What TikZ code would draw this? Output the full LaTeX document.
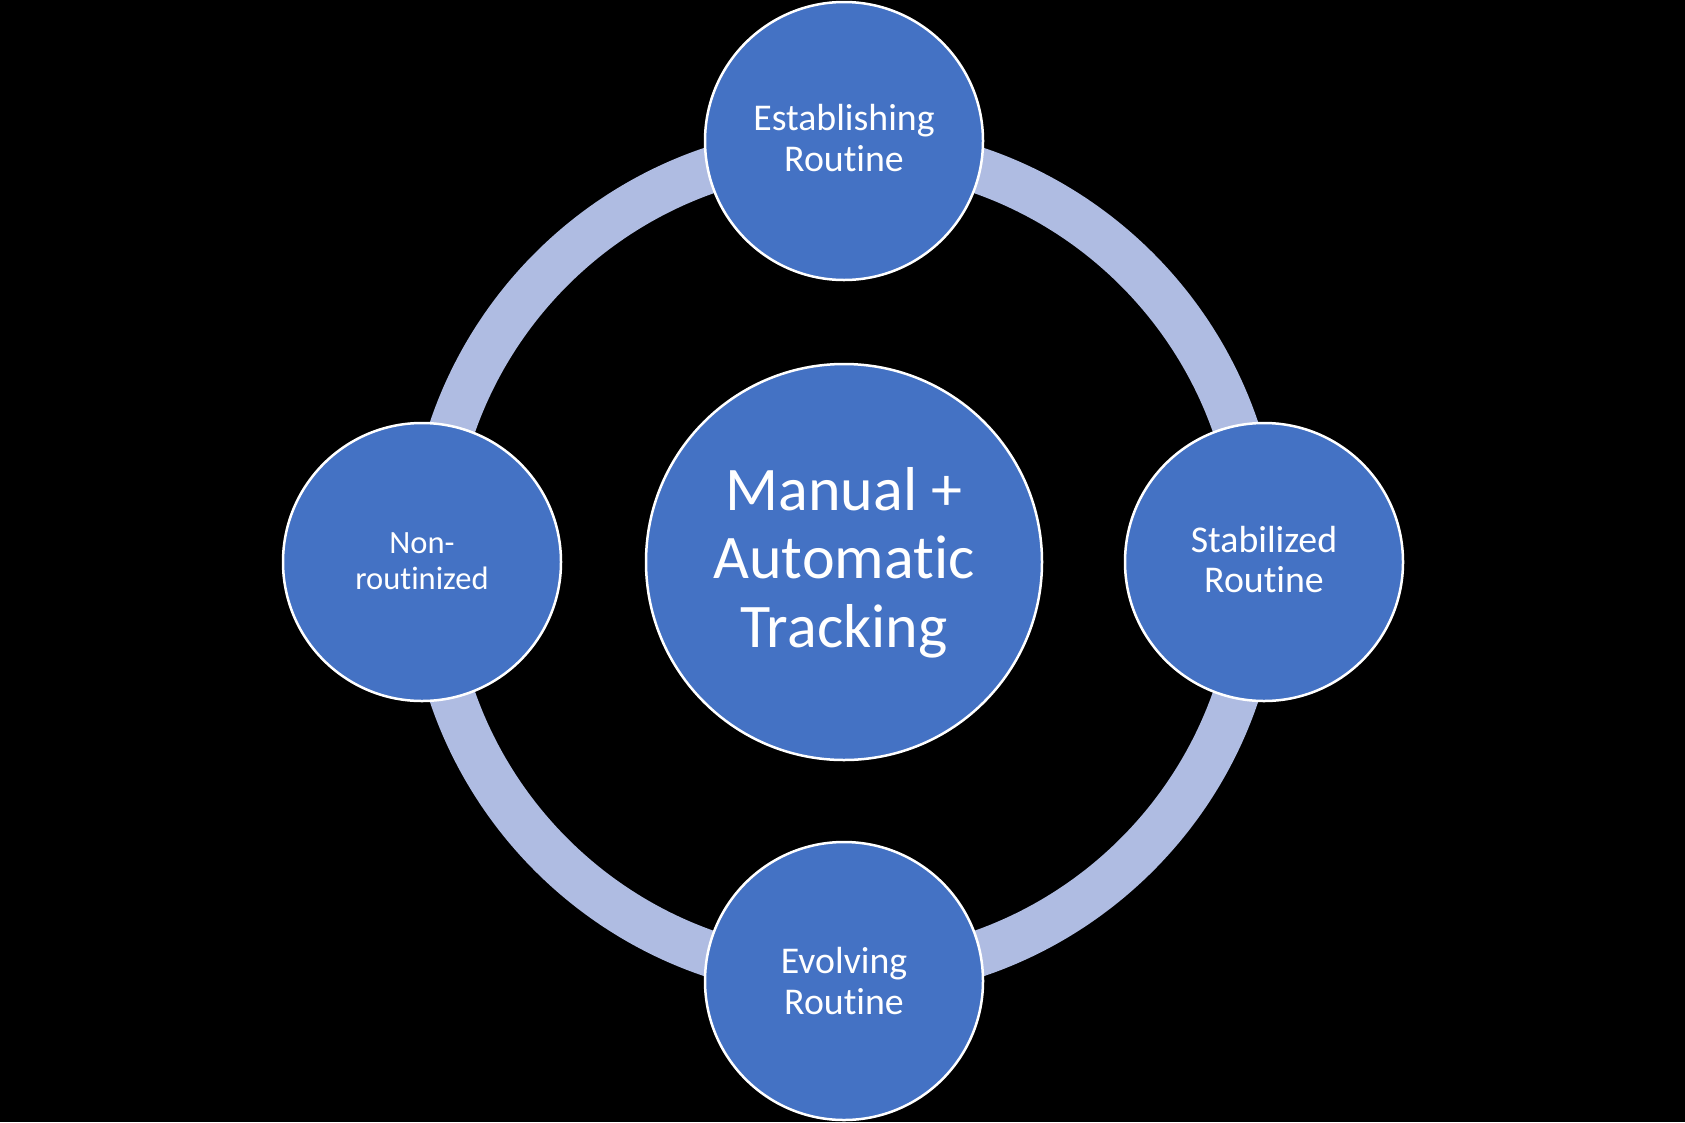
\documentclass[tikz,border=0pt]{standalone}
\usepackage{fontspec}
\setmainfont{Carlito}[Ligatures={NoCommon}]
\definecolor{ringc}{RGB}{175,188,226}
\definecolor{fillc}{RGB}{68,114,196}
\begin{document}
\begin{tikzpicture}[x=1pt,y=-1pt,
  bubble/.style={circle, fill=fillc, draw=white, line width=2.5pt, inner sep=0pt},
  small/.style={bubble, minimum size=278pt},
  lbl/.style={text=white, align=center, anchor=base, inner sep=0pt},
  lblsmall/.style={lbl, font=\fontsize{37.8}{40.5}\selectfont}]
\fill[black] (0,0) rectangle (1685,1122);
\useasboundingbox (0,0) rectangle (1685,1122);
\coordinate (c) at (844,562);
\draw[ringc, line width=46pt] (c) circle[radius=414pt];
\node[bubble, minimum size=396pt] (hub) at (c) {};
\node[small] (est) at (844,141) {};
\node[small] (stab) at (1264,562) {};
\node[small] (evo) at (844,981) {};
\node[small] (non) at (422,562) {};
\node[lbl, font=\fontsize{62}{68.3}\selectfont] (hubt) at (844,647) {Manual +\\Automatic\\Tracking};
\node[lblsmall] (estt) at (844,171) {Establishing\\Routine};
\node[lblsmall] (stabt) at (1264,592.5) {Stabilized\\Routine};
\node[lblsmall] (evot) at (844,1014) {Evolving\\Routine};
\node[lbl, font=\fontsize{32.5}{36}\selectfont] (nont) at (422,589.5) {Non-\\routinized};
\end{tikzpicture}
\end{document}
